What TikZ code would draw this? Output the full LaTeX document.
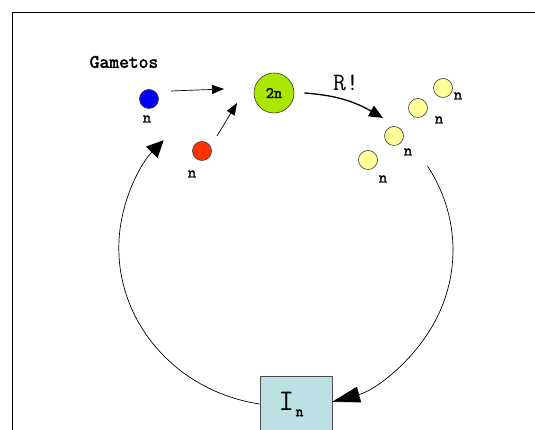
\documentclass[tikz,border=0pt]{standalone}
\usepackage{fontspec}
\newfontfamily\boldmono{Latin Modern Mono}[FakeBold=2.2]
\usetikzlibrary{arrows.meta}

\definecolor{gameteblue}{RGB}{0,0,255}
\definecolor{gametered}{RGB}{255,51,0}
\definecolor{zygotegreen}{RGB}{170,230,0}
\definecolor{sporeyellow}{RGB}{255,255,153}
\definecolor{adultcyan}{RGB}{189,224,228}

\begin{document}
\begin{tikzpicture}[
			x=1pt,y=1pt,
			cell/.style={
				circle,
				draw=black!80,
				line width=0.6pt,
				minimum size=19pt,
				inner sep=0pt
			},
			zygote/.style={
				circle,
				draw=black!80,
				line width=0.6pt,
				fill=zygotegreen,
				minimum size=40pt,
				inner sep=0pt,
				font=\boldmono\fontsize{16}{16}\selectfont
			},
			adultbox/.style={
				rectangle,
				draw=black!70,
				line width=0.6pt,
				fill=adultcyan,
				minimum width=72pt,
				minimum height=56pt,
				inner sep=0pt
			},
			nlabel/.style={inner sep=0pt, font=\boldmono\fontsize{16}{16}\selectfont},
			arrow/.style={-{Triangle[length=12pt,width=9pt]},line width=0.7pt},
			fatarrow/.style={-{Triangle[length=14pt,width=12pt]},line width=1.3pt}
			]
			\useasboundingbox (0,0) rectangle (535,430);
			\draw[line width=0.8pt] (535,418) -- (12,418) -- (12,0);
			
			\node[inner sep=0pt, font=\boldmono\fontsize{19}{19}\selectfont] (title) at (124,368) {Gametos};
			
			\node[cell, fill=gameteblue] (blue) at (149,331) {};
			\node[nlabel] (bluen) at (147,311) {n};
			\node[cell, fill=gametered] (red) at (202,279) {};
			\node[nlabel] (redn) at (192,256) {n};
			\coordinate (bluetip) at (224,341);
			\coordinate (redtip) at (237,327);
			
			\node[zygote] (zyg) at (274,337) {2n};
			\node[inner sep=0pt, font=\ttfamily\fontsize{25}{25}\selectfont] (meiosis) at (346,347) {R!};
			
			\node[cell, fill=sporeyellow] (sp1) at (443,342) {};
			\node[cell, fill=sporeyellow] (sp2) at (418,322) {};
			\node[cell, fill=sporeyellow] (sp3) at (394,294) {};
			\node[cell, fill=sporeyellow] (sp4) at (368,270) {};
			\node[nlabel] (sp1n) at (458,334) {n};
			\node[nlabel] (sp2n) at (439,310) {n};
			\node[nlabel] (sp3n) at (408,278) {n};
			\node[nlabel] (sp4n) at (383,251) {n};
			\coordinate (sporetip) at (383,312);
			
			\node[adultbox] (adult) at (296,26) {{\ttfamily\fontsize{30}{30}\selectfont I}\,\raisebox{-6pt}{\boldmono\fontsize{15}{15}\selectfont n}\hspace*{10pt}};
			\coordinate (cyclein) at (427.6,263.7);
			
			\draw[arrow] ([xshift=12pt,yshift=8pt]blue.east) -- (bluetip);
			\draw[arrow] ([xshift=8pt,yshift=8pt]red.north east) -- (redtip);
			\draw[fatarrow] ([xshift=10pt]zyg.east) to[out=-4,in=150] (sporetip);
			\draw[line width=0.7pt,-{Triangle[length=17pt,width=16pt]}] (adult.west) arc[start angle=261,end angle=137,x radius=167,y radius=158];
			\draw[line width=0.7pt,-{Triangle[length=28pt,width=16pt]}] (cyclein) arc[start angle=32,end angle=-74,x radius=167,y radius=158];
		\end{tikzpicture}
\end{document}
